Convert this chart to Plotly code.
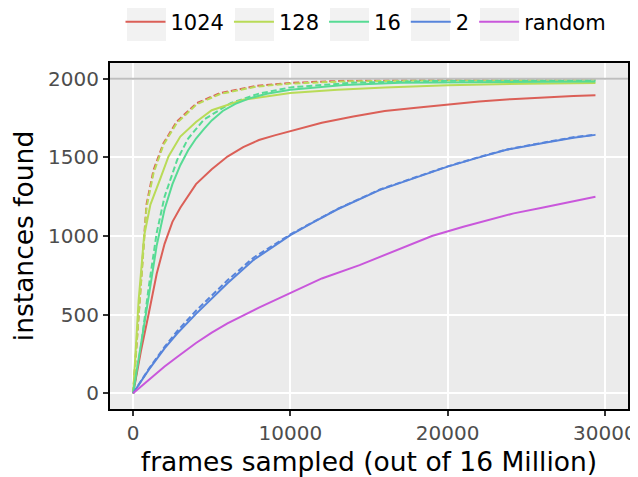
import plotly.graph_objects as go

# ---- data ----
series_names = ["1024", "128", "16", "2", "random"]
colors = ["#db5f57", "#b9db57", "#57db94", "#5784db", "#c957db"]

x_1024 = [0, 500, 1000, 1500, 2000, 2500, 3000, 4000, 5000, 6000, 7000, 8000, 9000, 10000,
          12000, 14000, 16000, 18000, 20000, 22000, 24000, 26000, 28000, 29400]
y_1024 = [0, 270, 510, 760, 950, 1090, 1180, 1330, 1425, 1505, 1565, 1610, 1640, 1668,
          1720, 1760, 1795, 1815, 1835, 1855, 1870, 1882, 1890, 1895]

x_1024_d = [0, 400, 850, 1300, 1930, 2780, 4050, 5530, 7860, 10000, 13400, 17600, 22000, 29400]
y_1024_d = [0, 590, 1200, 1420, 1590, 1728, 1845, 1909, 1955, 1973, 1987, 1991, 1994, 1997]

x_128 = [0, 350, 700, 1100, 1700, 2250, 3000, 4000, 5000, 7000, 10000, 13000, 16000, 20000,
         25000, 29400]
y_128 = [0, 590, 1000, 1200, 1357, 1506, 1632, 1725, 1800, 1866, 1909, 1930, 1945, 1958,
         1968, 1973]

x_128_d = [0, 400, 850, 1300, 1930, 2780, 4050, 5530, 7860, 10000, 13400, 17600, 22000, 29400]
y_128_d = [0, 575, 1180, 1400, 1580, 1718, 1838, 1903, 1950, 1969, 1983, 1988, 1992, 1995]

x_16 = [0, 500, 1000, 1500, 2000, 2500, 3000, 3500, 4000, 4500, 5000, 5700, 6500, 7400,
        8500, 10000, 13400, 17000, 22000, 29400]
y_16 = [0, 300, 620, 940, 1170, 1330, 1450, 1545, 1620, 1680, 1735, 1795, 1840, 1875,
        1905, 1930, 1960, 1975, 1980, 1983]

x_16_d = [0, 500, 1000, 1500, 2000, 2800, 3500, 4500, 6200, 8000, 10000, 14000, 20000, 29400]
y_16_d = [0, 300, 680, 1020, 1250, 1484, 1620, 1740, 1845, 1905, 1945, 1975, 1987, 1990]

x_2 = [0, 1000, 2000, 2800, 4000, 4900, 6000, 7650, 9000, 10000, 11500, 13000, 15700, 17600,
       20000, 22000, 23750, 26000, 28000, 29400]
y_2 = [0, 150, 285, 380, 505, 592, 700, 847, 940, 1006, 1090, 1170, 1293, 1357,
       1441, 1500, 1548, 1590, 1625, 1643]

x_2_d = [0, 1000, 2000, 2800, 4000, 4900, 6000, 7650, 9000, 10000, 11500, 13000, 15700, 17600,
         20000, 22000, 23750, 26000, 28000, 29400]
y_2_d = [0, 155, 295, 395, 525, 612, 718, 862, 950, 1010, 1092, 1172, 1296, 1360,
         1443, 1502, 1550, 1592, 1628, 1645]

x_rand = [0, 1000, 2000, 2800, 4000, 5000, 6000, 8000, 10000, 12000, 14400, 15700, 17600,
          19000, 21000, 22500, 24200, 26000, 28000, 29400]
y_rand = [0, 85, 170, 231, 320, 385, 444, 545, 635, 730, 815, 866, 943,
          1000, 1059, 1100, 1144, 1180, 1220, 1250]

total_instances = 2000
x_ticks = [0, 10000, 20000, 30000]
y_ticks = [0, 500, 1000, 1500, 2000]

# ---- figure ----
FONT = "DejaVu Sans"
OFF = 8                      # page body margin of the html page
W, H = 638 - OFF, 477 - OFF  # figure size so that it fits in the window
# panel in page pixels: x 110..628, y 63..409
ML, MR, MT, MB = 110 - OFF, 10, 63 - OFF, 68
PW, PH = W - ML - MR, H - MT - MB

fig = go.Figure()

solid = [(x_1024, y_1024), (x_128, y_128), (x_16, y_16), (x_2, y_2), (x_rand, y_rand)]
dashed = [(x_1024_d, y_1024_d), (x_128_d, y_128_d), (x_16_d, y_16_d), (x_2_d, y_2_d)]

for i, (xs, ys) in enumerate(dashed):
    fig.add_trace(go.Scatter(x=xs, y=ys, mode="lines", showlegend=False,
                             line=dict(color=colors[i], width=2, dash="6px,3px"),
                             hoverinfo="skip"))
for i, (xs, ys) in enumerate(solid):
    fig.add_trace(go.Scatter(x=xs, y=ys, mode="lines", name=series_names[i],
                             line=dict(color=colors[i], width=2)))

fig.add_hline(y=total_instances, line=dict(color="#bebebe", width=2), layer="above")


# light grey key boxes behind the legend symbols (page pixel positions -> paper coords)
def px_to_paper_x(px):
    return (px - OFF - ML) / PW


def px_to_paper_y(py):
    return (MT + PH - (py - OFF)) / PH


key_left_px = [127, 235, 330, 411, 480]
for px in key_left_px:
    fig.add_shape(type="rect", xref="paper", yref="paper", layer="below",
                  x0=px_to_paper_x(px), x1=px_to_paper_x(px + 39),
                  y0=px_to_paper_y(41), y1=px_to_paper_y(3),
                  line=dict(width=0), fillcolor="#f2f2f2")

axis_common = dict(
    showgrid=True, gridcolor="white", gridwidth=1.6, zeroline=False,
    showline=True, linecolor="black", linewidth=2, mirror=True,
    ticks="outside", ticklen=5, tickcolor="#333333", tickwidth=1.5,
    tickfont=dict(family=FONT, size=20, color="#4d4d4d"),
    automargin=False, ticklabeloverflow="allow",
)

fig.update_layout(
    width=W, height=H,
    margin=dict(l=ML, r=MR, t=MT, b=MB, autoexpand=False),
    paper_bgcolor="white", plot_bgcolor="#ebebeb",
    font=dict(family=FONT),
    xaxis=dict(range=[-1470, 31470], tickvals=x_ticks, ticktext=[str(v) for v in x_ticks],
               title=dict(text="frames sampled (out of 16 Million)",
                          font=dict(family=FONT, size=26.5, color="black")),
               **axis_common),
    yaxis=dict(range=[-100, 2100], tickvals=y_ticks, ticktext=[str(v) for v in y_ticks],
               title=dict(text="instances found", standoff=8,
                          font=dict(family=FONT, size=26.5, color="black")),
               **axis_common),
    legend=dict(orientation="h", xref="container", yref="container",
                x=(366 - OFF) / W, xanchor="center", y=1 - (22 - OFF) / H, yanchor="middle",
                font=dict(family=FONT, size=21, color="black"),
                bgcolor="rgba(0,0,0,0)", itemwidth=40, itemclick=False),
)

fig.write_html("out.html")
